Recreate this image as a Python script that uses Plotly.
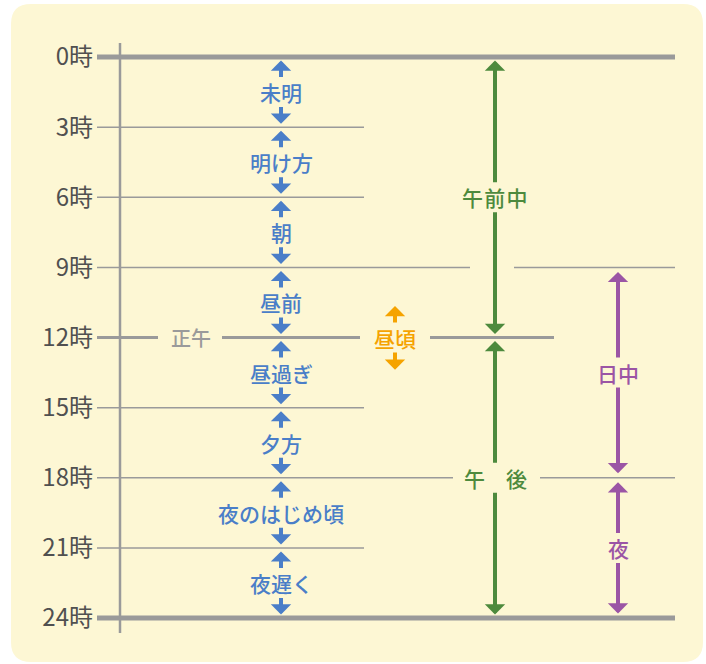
import plotly.graph_objects as go

# ---------------- data ----------------
hours = [0, 3, 6, 9, 12, 15, 18, 21, 24]
hour_labels = ["0時", "3時", "6時", "9時", "12時", "15時", "18時", "21時", "24時"]

blue_starts = [0, 3, 6, 9, 12, 15, 18, 21]
blue_ends = [3, 6, 9, 12, 15, 18, 21, 24]
blue_labels = ["未明", "明け方", "朝", "昼前", "昼過ぎ", "夕方", "夜のはじめ頃", "夜遅く"]

green_starts = [0, 12]
green_ends = [12, 24]
green_labels = ["午\u200a前\u200a中", "午　後"]

purple_starts = [9, 18]
purple_ends = [18, 24]
purple_labels = ["日中", "夜"]

noon_hour = 12
noon_label = "正午"
hirugoro_label = "昼頃"
hirugoro_center = 12
hirugoro_start = 10.65
hirugoro_end = 13.38

# ---------------- layout constants (pixels) ----------------
W, H = 706, 664
TOP_PX, BOT_PX = 57, 618
ppu = (BOT_PX - TOP_PX) / 24.0
y_top = -TOP_PX / ppu
y_bot = (H - TOP_PX) / ppu

X_TICK = 97
X_AXIS = 120
X_FULL = 675
X_SHORT = 364
X_BLUE = 281
X_GREEN = 495
X_PURPLE = 618
X_ORANGE = 395
X_NOON = 191

GRAY = "#9a9a9a"
BLUE = "#4a7ec8"
GREEN = "#4d8a3d"
PURPLE = "#9b55a5"
ORANGE = "#f5a300"
BG = "#fdf7d4"
FONT = "Noto Sans CJK JP"

segments = {
    0: [(X_TICK, X_FULL)],
    3: [(X_TICK, X_SHORT)],
    6: [(X_TICK, X_SHORT)],
    9: [(X_TICK, 470), (514, X_FULL)],
    12: [(X_TICK, 158), (222, 360), (430, 554)],
    15: [(X_TICK, X_SHORT)],
    18: [(X_TICK, 453), (540, X_FULL)],
    21: [(X_TICK, X_SHORT)],
    24: [(X_TICK, X_FULL)],
}
widths = {0: 5, 24: 5, 12: 3}

fig = go.Figure()

# vertical axis line
fig.add_trace(go.Scatter(x=[X_AXIS, X_AXIS], y=[-14 / ppu, 24 + 15 / ppu], mode="lines",
                         line=dict(color=GRAY, width=2.5), hoverinfo="skip", showlegend=False))

# hour lines grouped by width
groups = {}
for h in hours:
    w = widths.get(h, 1.5)
    xs, ys = groups.setdefault(w, ([], []))
    for a, b in segments[h]:
        xs += [a, b, None]
        ys += [h, h, None]
for w, (xs, ys) in groups.items():
    fig.add_trace(go.Scatter(x=xs, y=ys, mode="lines", line=dict(color=GRAY, width=w),
                             hoverinfo="skip", showlegend=False))

annotations = []


def span(x, s, e, label, color, standoff, mid=None, size=21):
    m = (s + e) / 2 if mid is None else mid
    for tip, fc in ((s, color), (e, "rgba(0,0,0,0)")):
        annotations.append(dict(
            x=x, y=tip, ax=x, ay=m, xref="x", yref="y", axref="x", ayref="y",
            text=label, font=dict(family=FONT, size=size, color=fc, weight=500),
            showarrow=True, arrowhead=1, arrowsize=0.85, arrowwidth=4,
            arrowcolor=color, standoff=standoff, borderpad=0, borderwidth=0,
        ))


for s, e, lab in zip(blue_starts, blue_ends, blue_labels):
    span(X_BLUE, s, e, lab, BLUE, 3.5)
for s, e, lab in zip(green_starts, green_ends, green_labels):
    span(X_GREEN, s, e, lab, GREEN, 3.5)
for s, e, lab in zip(purple_starts, purple_ends, purple_labels):
    span(X_PURPLE, s, e, lab, PURPLE, 4.5)
span(X_ORANGE, hirugoro_start, hirugoro_end, hirugoro_label, ORANGE, 0, mid=hirugoro_center)

annotations.append(dict(x=X_NOON, y=noon_hour, xref="x", yref="y", text=noon_label,
                        showarrow=False, font=dict(family=FONT, size=20, color=GRAY, weight=500)))

# background rounded rectangle (paper coords)
x0, x1, yt, yb, r = 11, 703, 4, 662, 20


def px(x):
    return x / W


def py(y):
    return 1 - y / H


path = (f"M {px(x0 + r)},{py(yt)} L {px(x1 - r)},{py(yt)} Q {px(x1)},{py(yt)} {px(x1)},{py(yt + r)} "
        f"L {px(x1)},{py(yb - r)} Q {px(x1)},{py(yb)} {px(x1 - r)},{py(yb)} "
        f"L {px(x0 + r)},{py(yb)} Q {px(x0)},{py(yb)} {px(x0)},{py(yb - r)} "
        f"L {px(x0)},{py(yt + r)} Q {px(x0)},{py(yt)} {px(x0 + r)},{py(yt)} Z")

fig.update_layout(
    width=W, height=H, margin=dict(l=0, r=0, t=0, b=0),
    paper_bgcolor="white", plot_bgcolor="rgba(0,0,0,0)",
    shapes=[dict(type="path", path=path, xref="paper", yref="paper", fillcolor=BG,
                 line=dict(width=0), layer="below")],
    annotations=annotations,
    xaxis=dict(range=[0, W], visible=False, fixedrange=True),
    yaxis=dict(range=[y_bot, y_top], anchor="free", position=X_TICK / W, side="left",
               tickvals=hours, ticktext=hour_labels, ticks="", showgrid=False,
               zeroline=False, showline=False, ticklabelstandoff=4,
               tickfont=dict(family=FONT, size=24, color="#505050", weight=400), fixedrange=True),
    showlegend=False,
)

fig.write_html("out.html", config={"displayModeBar": False},
               post_script="document.body.style.margin='0';document.body.style.overflow='hidden';")
